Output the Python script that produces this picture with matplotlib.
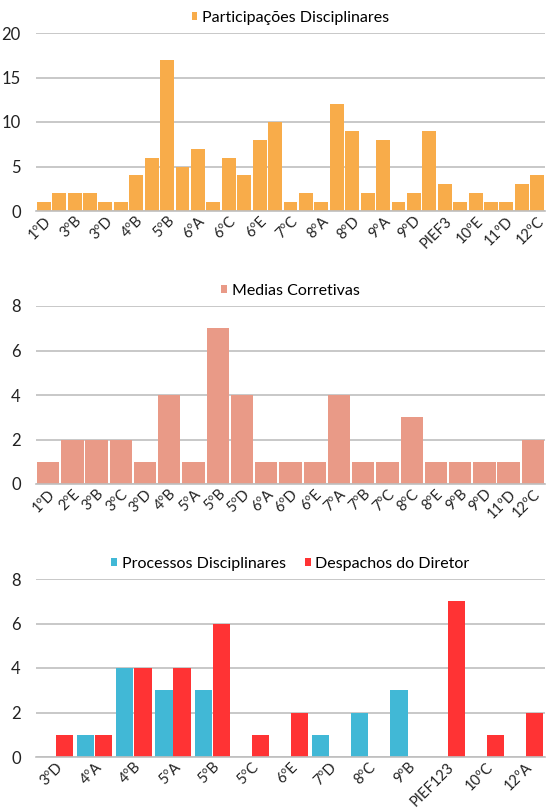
import matplotlib
import matplotlib.pyplot as plt
import numpy as np

matplotlib.use("agg")

plt.rcParams["font.family"] = ["Lato", "DejaVu Sans"]

# Participações Disciplinares
part_turmas = ["1ºD", "2ºE", "3ºB", "3ºC", "3ºD", "4ºA", "4ºB", "5ºA", "5ºB", "5ºD",
               "6ºA", "6ºB", "6ºC", "6ºD", "6ºE", "7ºA", "7ºC", "7ºD", "8ºA", "8ºC",
               "8ºD", "8ºE", "9ºA", "9ºB", "9ºD", "10ºA", "PIEF3", "10ºC", "10ºE", "11ºA",
               "11ºD", "12ºA", "12ºC"]
part_valores = [1, 2, 2, 2, 1, 1, 4, 6, 17, 5, 7, 1, 6, 4, 8, 10, 1, 2, 1, 12,
                9, 2, 8, 1, 2, 9, 3, 1, 2, 1, 1, 3, 4]

# Medias Corretivas
med_turmas = ["1ºD", "2ºE", "3ºB", "3ºC", "3ºD", "4ºB", "5ºA", "5ºB", "5ºD", "6ºA",
              "6ºD", "6ºE", "7ºA", "7ºB", "7ºC", "8ºC", "8ºE", "9ºB", "9ºD", "11ºD", "12ºC"]
med_valores = [1, 2, 2, 2, 1, 4, 1, 7, 4, 1, 1, 1, 4, 1, 1, 3, 1, 1, 1, 1, 2]

# Processos / Despachos
proc_turmas = ["3ºD", "4ºA", "4ºB", "5ºA", "5ºB", "5ºC", "6ºE", "7ºD", "8ºC", "9ºB",
               "PIEF123", "10ºC", "12ºA"]
processos = [0, 1, 4, 3, 3, 0, 0, 1, 2, 3, 0, 0, 0]
despachos = [1, 1, 4, 4, 6, 1, 2, 0, 0, 0, 7, 1, 2]

LARANJA = "#F8AC4A"
SALMAO = "#E99A87"
AZUL = "#41B8D6"
VERMELHO = "#FF3334"
GRELHA = "#BFBFBF"


def estilo(ax, ymax, passo):
    ax.set_ylim(0, ymax)
    ax.set_yticks(np.arange(0, ymax + 1, passo))
    ax.yaxis.grid(True, color=GRELHA, linewidth=1.2)
    ax.set_axisbelow(True)
    for s in ["top", "right", "left"]:
        ax.spines[s].set_visible(False)
    ax.spines["bottom"].set_color(GRELHA)
    ax.spines["bottom"].set_linewidth(1.2)
    ax.tick_params(axis="both", length=0, labelsize=12, colors="#222222")
    ax.tick_params(axis="y", pad=11)
    ax.tick_params(axis="x", pad=2)


def rotular(ax, pos, nomes):
    ax.set_xticks(pos)
    ax.set_xticklabels(nomes, rotation=45, ha="right", rotation_mode="anchor",
                       fontsize=10.5)


def legenda(ax, handles, nomes):
    ax.legend(handles, nomes, loc="lower center", bbox_to_anchor=(0.5, 1.01),
              ncol=len(nomes), frameon=False, handlelength=0.35, handleheight=0.35,
              handletextpad=0.3, columnspacing=1.2, fontsize=11.5, borderaxespad=0)


fig = plt.figure(figsize=(5.47, 8.08), dpi=100)

L, W = 36 / 547, 509 / 547
H = 178 / 808

# grafico 1
ax1 = fig.add_axes([L, 1 - 211 / 808, W, H])
x1 = np.arange(len(part_turmas))
b1 = ax1.bar(x1, part_valores, width=0.9, color=LARANJA)
ax1.set_xlim(-0.5, len(part_turmas) - 0.5)
estilo(ax1, 20, 5)
rotular(ax1, x1[::2], part_turmas[::2])
legenda(ax1, [b1], ["Participações Disciplinares"])

# grafico 2
ax2 = fig.add_axes([L, 1 - 484 / 808, W, H])
x2 = np.arange(len(med_turmas))
b2 = ax2.bar(x2, med_valores, width=0.92, color=SALMAO)
ax2.set_xlim(-0.5, len(med_turmas) - 0.5)
estilo(ax2, 8, 2)
rotular(ax2, x2, med_turmas)
legenda(ax2, [b2], ["Medias Corretivas"])

# grafico 3
ax3 = fig.add_axes([L, 1 - 757 / 808, W, H])
x3 = np.arange(len(proc_turmas))
b3a = ax3.bar(x3 - 0.23, processos, width=0.44, color=AZUL)
b3b = ax3.bar(x3 + 0.23, despachos, width=0.44, color=VERMELHO)
ax3.set_xlim(-0.5, len(proc_turmas) - 0.5)
estilo(ax3, 8, 2)
rotular(ax3, x3, proc_turmas)
legenda(ax3, [b3a, b3b], ["Processos Disciplinares", "Despachos do Diretor"])

fig.savefig("out.png", dpi=100)
plt.close(fig)
